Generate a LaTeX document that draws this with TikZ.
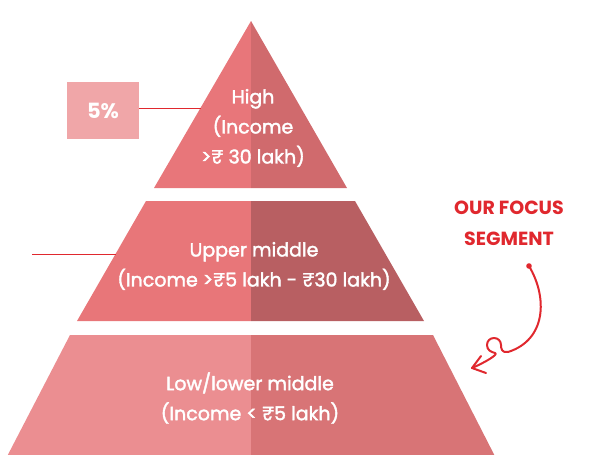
\documentclass[tikz,border=0pt]{standalone}
\usepackage{fontspec}
\setmainfont{Poppins}
\newfontfamily\tierfont[FakeBold=2]{Poppins}
\definecolor{topL}{HTML}{E8767A}
\definecolor{topR}{HTML}{D06A6D}
\definecolor{midL}{HTML}{E87679}
\definecolor{midR}{HTML}{B85F62}
\definecolor{lowL}{HTML}{EB8E91}
\definecolor{lowR}{HTML}{D87476}
\definecolor{boxfill}{HTML}{F0A6A8}
\definecolor{accent}{HTML}{E0282E}
\tikzset{
  tiertext/.style={text=white, align=center, font=\tierfont\fontsize{19}{30}\selectfont, inner sep=0pt},
  leader/.style={draw=accent, line width=0.9pt},
  focus/.style={text=accent, align=center, font=\bfseries\fontsize{19}{31}\selectfont, inner sep=0pt},
  swirl/.style={draw=accent, line width=2pt, line cap=round, line join=round},
}
\begin{document}
\begin{tikzpicture}[x=1pt, y=-1pt]
\useasboundingbox (0,0) rectangle (589,455);

% top tier: triangle split into two shades
\fill[topL] (251,21) -- (154,188) -- (251,188) -- cycle;
\fill[topR] (251,21) -- (347,188) -- (251,188) -- cycle;
% upper middle tier
\fill[midL] (146,201) -- (77,321) -- (251,321) -- (251,201) -- cycle;
\fill[midR] (251,201) -- (355,201) -- (424,321) -- (251,321) -- cycle;
% lower tier
\fill[lowL] (70,335) -- (0,470) -- (251,470) -- (251,335) -- cycle;
\fill[lowR] (251,335) -- (433,335) -- (502,470) -- (251,470) -- cycle;

% tier labels
\node[tiertext] (high) at (253,128) {High\\(Income\\>₹ 30 lakh)};
\node[tiertext] (upper) at (254,266) {Upper middle\\(Income >₹5 lakh - ₹30 lakh)};
\node[tiertext] (low) at (250,398) {Low/lower middle\\(Income < ₹5 lakh)};

% share box with leader lines
\node[fill=boxfill, minimum width=72pt, minimum height=57pt, inner sep=0pt,
      text=white, font=\bfseries\fontsize{21}{24}\selectfont] (share) at (103,110.5) {5\%};
\coordinate (highedge) at (201,108);
\draw[leader] (share.east |- highedge) -- (highedge);
\coordinate (upperfree) at (32,254);
\coordinate (upperedge) at (116,254);
\draw[leader] (upperfree) -- (upperedge);

% focus callout
\node[focus] (focus) at (509,223.5) {OUR FOCUS\\SEGMENT};
\coordinate (dot) at (529,266);
\coordinate (tip) at (472,368);
\coordinate (barbA) at (481,356);
\coordinate (barbB) at (486,373);
\fill[accent] (dot) circle (2.8);
\draw[swirl] (dot) .. controls (548,298) and (546,340) .. (508,352)
  .. controls (502,353) and (501,349) .. (501,345)
  .. controls (501,341) and (498,338) .. (494,338)
  .. controls (490,338) and (487,341) .. (487,345)
  .. controls (487,350) and (491,352) .. (495,353)
  .. controls (499,354) and (486,362) .. (tip);
\draw[swirl] (barbA) -- (tip) -- (barbB);
\end{tikzpicture}
\end{document}
